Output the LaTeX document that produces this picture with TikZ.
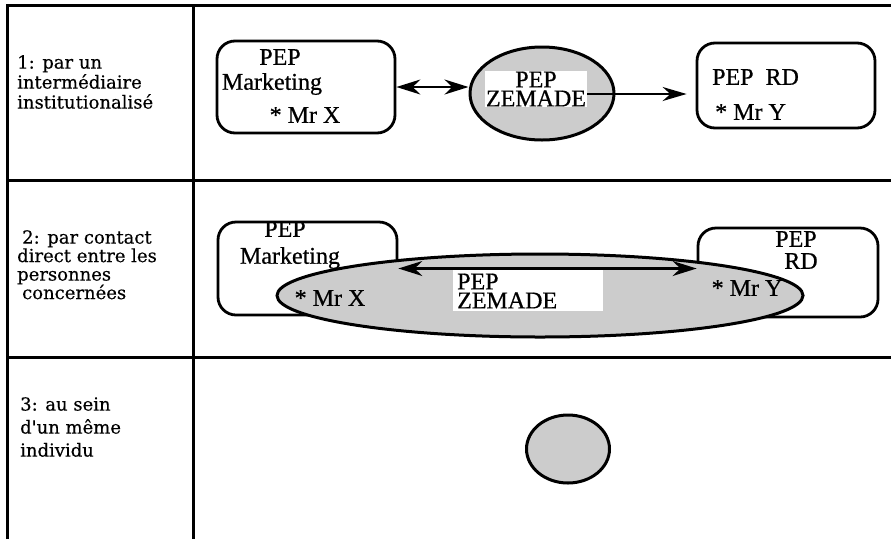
\documentclass[tikz,border=0pt]{standalone}
\usepackage{fontspec}
\setmainfont{Liberation Serif}[FakeBold=0.6]
\newfontfamily\colfont{DejaVu Serif}[FakeBold=0.4]
\usepackage{tikz}
\usetikzlibrary{
    arrows.meta,
    positioning,
    shapes.geometric
}

\begin{document}
\begin{tikzpicture}[
        x=1pt, y=-1pt,
        rule/.style={line width=3pt},
        pepbox/.style={
            draw,
            line width=2.8pt,
            rounded corners=18pt,
            inner sep=0pt
        },
        zemade/.style={
            ellipse,
            draw,
            line width=3pt,
            fill=black!20,
            inner sep=0pt
        },
        txt/.style={font=\fontsize{24}{19}\selectfont, inner sep=0pt},
        rowlabel/.style={align=left, anchor=north west, inner sep=0pt},
        link/.style={line width=2.2pt},
        both/.style={arrows={Stealth[length=24pt,width=15pt]-Stealth[length=24pt,width=15pt]}},
        one/.style={arrows={-Stealth[length=24pt,width=14pt]}}
    ]

    \useasboundingbox (0,0) rectangle (891,539);

    % table
    \draw[rule] (7,539) -- (7,5) -- (891,5);
    \draw[rule] (193,5) -- (193,539);
    \draw[rule] (7,180) -- (891,180);
    \draw[rule] (7,357) -- (891,357);

    \node[rowlabel, font=\colfont\fontsize{18}{20}\selectfont] (row1) at (17,55)
        {1: par un\\intermédiaire\\institutionalisé};
    \node[rowlabel, font=\colfont\fontsize{18}{18.5}\selectfont] (row2) at (17,230)
        {\hspace*{5pt}2: par contact\\direct entre les\\personnes\\\hspace*{5pt}concernées};
    \node[rowlabel, font=\colfont\fontsize{18}{23}\selectfont] (row3) at (20,397)
        {3: au sein\\d'un même\\individu};

    % 1
    \node[pepbox, minimum width=178pt, minimum height=92pt] (mkt1) at (306,87) {};
    \node[txt] (mkt1a) at (280,57) {PEP};
    \node[txt] (mkt1b) at (272,84) {Marketing};
    \node[txt] (mkt1c) at (305,115) {* Mr X};

    \node[zemade, minimum width=144pt, minimum height=93pt] (zem1) at (542,93.5) {};
    \node[txt, fill=white, inner sep=1pt, align=center] (zem1t) at (536,89) {PEP\\ZEMADE};

    \node[pepbox, minimum width=178pt, minimum height=85pt] (rd1) at (786,85.5) {};
    \node[txt, anchor=west] (rd1a) at (712,77) {PEP\ \ RD};
    \node[txt, anchor=west] (rd1b) at (715,112) {* Mr Y};

    \draw[link, both] (mkt1.east) -- (mkt1.east -| zem1.west);
    \draw[link, one, shorten >=9pt] ([yshift=-5pt]zem1t.east) -- ([yshift=-5pt]zem1t.east -| rd1.west);

    % 2
    \node[pepbox, minimum width=179pt, minimum height=93pt] (mkt2) at (307.5,268.5) {};
    \node[pepbox, minimum width=180pt, minimum height=89pt] (rd2) at (788,272.5) {};
    \node[zemade, minimum width=526pt, minimum height=83pt] (zem2) at (540,295.5) {};
    \node[fill=white, minimum width=150pt, minimum height=41pt] (zem2box) at (528,290.5) {};
    \node[txt, anchor=west, align=left] (zem2t) at (457,291) {PEP\\ZEMADE};

    \node[txt] (mkt2a) at (285,229) {PEP};
    \node[txt] (mkt2b) at (290,258) {Marketing};
    \node[txt] (mkt2c) at (330,298) {* Mr X};
    \node[txt] (rd2a) at (796,239) {PEP};
    \node[txt] (rd2b) at (801,261) {RD};
    \node[txt] (rd2c) at (747,288) {* Mr Y};

    \draw[link, both] (mkt2.east) -- (mkt2.east -| rd2.west);

    % 3
    \node[zemade, minimum width=83pt, minimum height=68pt] (zem3) at (568,449) {};

\end{tikzpicture}
\end{document}
